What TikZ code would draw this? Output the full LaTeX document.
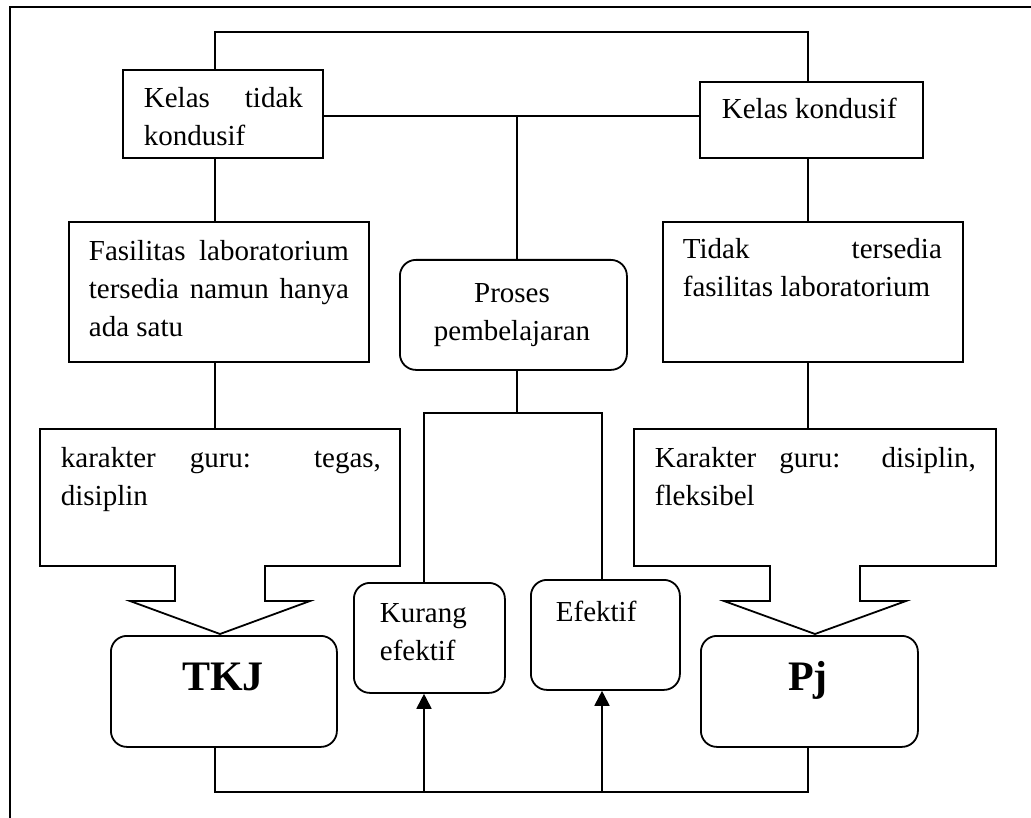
\documentclass[tikz,border=0pt]{standalone}
\usepackage{fontspec}
\setmainfont{Liberation Serif}
\usetikzlibrary{arrows.meta,calc}
\newcommand{\ns}{\spaceskip=0pt\xspaceskip=0pt }
\newcommand{\jl}[1]{\makebox[\hsize][s]{\ns #1}}
\begin{document}
\begin{tikzpicture}[x=1pt,y=-1pt,line width=1.8pt,
  bx/.style={draw,rectangle,inner sep=0pt,anchor=north west},
  rbx/.style={bx,rounded corners=16pt},
  txt/.style={inner sep=0pt,font=\fontsize{29}{38}\selectfont},
  ptxt/.style={txt,align=left},
  big/.style={inner sep=0pt,font=\fontsize{42}{48}\selectfont\bfseries,anchor=base},
  arr/.style={-{Triangle[length=15pt,width=15pt]}}]
\useasboundingbox (0,0) rectangle (1031,818);
\clip (0,0) rectangle (1031,818);
% outer frame
\draw (10,830) -- (10,7) -- (1045,7);
% column / row coordinates
\coordinate (colL) at (215,0);
\coordinate (colR) at (808,0);
\coordinate (colM) at (517,0);
\coordinate (cKu) at (424,0);
\coordinate (cEf) at (602,0);
\coordinate (rTop) at (0,32);
\coordinate (rMid) at (0,116);
\coordinate (rSplit) at (0,413);
\coordinate (rBot) at (0,792);
% boxes
\node[bx,minimum width=200pt,minimum height=88pt] (ktk) at (122,69) {};
\node[bx,minimum width=223pt,minimum height=76pt] (kk) at (699,81) {};
\node[bx,minimum width=300pt,minimum height=140pt] (fas) at (68,221) {};
\node[bx,minimum width=300pt,minimum height=140pt] (tid) at (662,221) {};
\node[rbx,minimum width=227pt,minimum height=110pt] (pr) at (399,259) {};
\node[rbx,minimum width=226pt,minimum height=111pt] (tkj) at (110,635) {};
\node[rbx,minimum width=217pt,minimum height=111pt] (pj) at (700,635) {};
\node[rbx,minimum width=151pt,minimum height=110pt] (ku) at (353,582) {};
\node[rbx,minimum width=149pt,minimum height=110pt] (ef) at (530,579) {};
% callouts
\draw (40,429) coordinate (klnw) -- (400,429) -- (400,566) -- (265,566) -- (265,601) -- (310,601) -- (220,634) coordinate (kltip) -- (130,601) -- (175,601) -- (175,566) -- (40,566) -- cycle;
\draw (634,429) coordinate (krnw) -- (996,429) -- (996,566) -- (860,566) -- (860,601) -- (906,601) -- (815,634) coordinate (krtip) -- (724,601) -- (770,601) -- (770,566) -- (634,566) -- cycle;
% texts
\node[ptxt,text width=159pt,anchor=north west] (tktk) at (143,80.4) {\strut Kelas\hfill tidak\\kondusif};
\node[txt,anchor=base west] (tkk) at (721,119) {\ns Kelas kondusif};
\node[ptxt,text width=260pt,anchor=north west] (tfas) at (88,233.4) {\strut\jl{Fasilitas laboratorium}\\\jl{tersedia namun hanya}\\\ns ada satu};
\node[ptxt,text width=259pt,anchor=north west] (ttid) at (682,231.4) {\strut\jl{Tidak tersedia}\\\ns fasilitas laboratorium};
\node[txt,text width=220pt,align=center,anchor=north] (tpr) at (512,275.4) {\strut Proses\\pembelajaran};
\node[ptxt,text width=320pt,anchor=north west] (tkl) at (60,440.4) {\strut\jl{karakter guru: tegas,}\\disiplin};
\node[ptxt,text width=321pt,anchor=north west] (tkr) at (654,440.4) {\strut\jl{Karakter guru: disiplin,}\\fleksibel};
\node[ptxt,text width=115pt,anchor=north west] (tku) at (379,595.4) {\strut Kurang\\efektif};
\node[txt,anchor=base west] (tef) at (555,621) {Efektif};
\node[big] (ttkj) at (223,690) {TKJ};
\node[big] (tpj) at (808,690) {Pj};
% connectors
\draw (ktk.north -| colL) -- (colL |- rTop) -- (colR |- rTop) -- (kk.north -| colR);
\draw (ktk.east |- rMid) -- (kk.west |- rMid);
\draw (colM |- rMid) -- (pr.north -| colM);
\draw (ktk.south -| colL) -- (fas.north -| colL);
\draw (kk.south -| colR) -- (tid.north -| colR);
\draw (fas.south -| colL) -- (colL |- klnw);
\draw (tid.south -| colR) -- (colR |- krnw);
\draw (pr.south -| colM) -- (colM |- rSplit);
\draw (cKu |- ku.north) -- (cKu |- rSplit) -- (cEf |- rSplit) -- (cEf |- ef.north);
\draw (tkj.south -| colL) -- (colL |- rBot) -- (colR |- rBot) -- (pj.south -| colR);
\draw[arr] (cKu |- rBot) -- (cKu |- ku.south);
\draw[arr] (cEf |- rBot) -- (cEf |- ef.south);
\end{tikzpicture}
\end{document}
